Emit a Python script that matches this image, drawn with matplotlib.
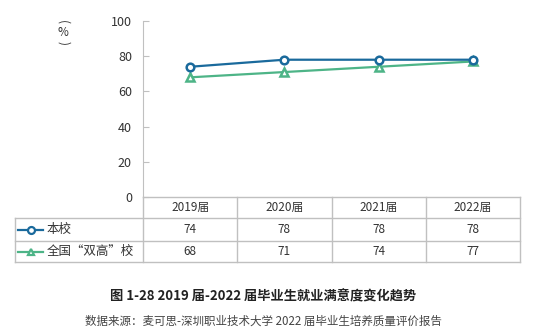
import matplotlib.pyplot as plt
from matplotlib.lines import Line2D

plt.rcParams['font.family'] = ['Noto Sans CJK SC', 'DejaVu Sans']

years = ['2019届', '2020届', '2021届', '2022届']
school = [74, 78, 78, 78]
national = [68, 71, 74, 77]
names = ['本校', '全国“双高”校']
blue = '#1a6a9c'
green = '#4db487'
grid_c = '#c0c0c0'
txt_c = '#333333'

W, H = 539, 332
fig = plt.figure(figsize=(W / 100, H / 100), dpi=100)

# pixel helpers for figure coords
def fx(px):
    return px / W

def fy(py):
    return 1 - py / H

x_left, x_right = 143, 520
y_top, y_bot = 21, 197
ax = fig.add_axes([fx(x_left), fy(y_bot), fx(x_right) - fx(x_left), fy(y_top) - fy(y_bot)])

xs = range(len(years))
ax.plot(xs, school, color=blue, lw=1.6, marker='o', ms=5.5, mfc='white', mec=blue, mew=1.8, zorder=3)
ax.plot(xs, national, color=green, lw=1.6, marker='^', ms=6, mfc='white', mec=green, mew=1.8, zorder=2)

ax.set_xlim(-0.5, len(years) - 0.5)
ax.set_ylim(0, 100)
ax.set_yticks(range(0, 101, 20))
ax.set_xticks([])
for s in ['top', 'right', 'bottom']:
    ax.spines[s].set_visible(False)
ax.spines['left'].set_color(grid_c)
ax.tick_params(axis='y', direction='in', length=4, color=grid_c, labelsize=9,
               labelcolor=txt_c, pad=8)

# vertical "(%)"
fig.text(fx(63), fy(22), '(', rotation=-90, ha='center', va='center', fontsize=8.5, color=txt_c)
fig.text(fx(63), fy(33), '%', ha='center', va='center', fontsize=8.5, color=txt_c)
fig.text(fx(63), fy(43), ')', rotation=-90, ha='center', va='center', fontsize=8.5, color=txt_c)

# table drawn under the axes
t_left = 15
col_w = (x_right - x_left) / len(years)
rows = [197, 218, 241, 262]

def hline(y, x0, x1):
    fig.add_artist(Line2D([fx(x0), fx(x1)], [fy(y), fy(y)], color=grid_c, lw=1))

def vline(x, y0, y1):
    fig.add_artist(Line2D([fx(x), fx(x)], [fy(y0), fy(y1)], color=grid_c, lw=1))

hline(rows[0], x_left, x_right)
for y in rows[1:]:
    hline(y, t_left, x_right)
vline(t_left, rows[1], rows[3])
for i in range(len(years) + 1):
    vline(x_left + i * col_w, rows[0], rows[3])

for i, yr in enumerate(years):
    cx = x_left + (i + 0.5) * col_w
    fig.text(fx(cx), fy((rows[0] + rows[1]) / 2), yr, ha='center', va='center', fontsize=8.5, color=txt_c)
    fig.text(fx(cx), fy((rows[1] + rows[2]) / 2), str(school[i]), ha='center', va='center', fontsize=8.5, color=txt_c)
    fig.text(fx(cx), fy((rows[2] + rows[3]) / 2), str(national[i]), ha='center', va='center', fontsize=8.5, color=txt_c)

for r, (name, c, m) in enumerate(zip(names, [blue, green], ['o', '^'])):
    yc = (rows[r + 1] + rows[r + 2]) / 2
    fig.add_artist(Line2D([fx(18), fx(43)], [fy(yc), fy(yc)], color=c, lw=1.6))
    fig.add_artist(Line2D([fx(30.5)], [fy(yc)], marker=m, ms=5, mfc='white', mec=c, mew=1.6, color=c))
    fig.text(fx(47), fy(yc), name, ha='left', va='center', fontsize=9, color=txt_c)

fig.text(fx(263), fy(296), '图 1-28 2019 届-2022 届毕业生就业满意度变化趋势', ha='center', va='center',
         fontsize=9.5, fontweight='bold', color='#222222')
fig.text(fx(263), fy(321), '数据来源：麦可思-深圳职业技术大学 2022 届毕业生培养质量评价报告', ha='center', va='center',
         fontsize=8.3, color='#444444')

fig.savefig('out.png', dpi=100)
